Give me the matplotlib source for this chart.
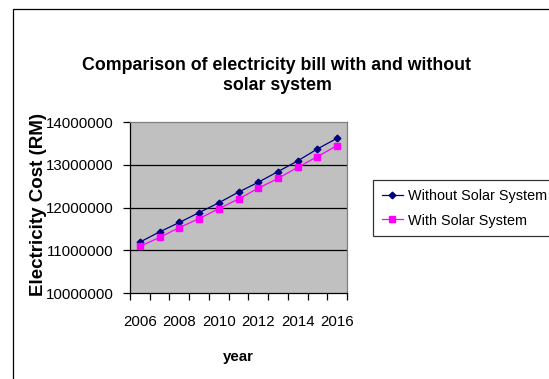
import matplotlib
matplotlib.use("Agg")
import matplotlib.pyplot as plt
from matplotlib.patches import Rectangle

plt.rcParams['font.family'] = ['Liberation Sans', 'DejaVu Sans']

# data
years = list(range(2006, 2017))
without_solar = [11190000, 11430000, 11650000, 11880000, 12110000, 12360000,
                 12590000, 12840000, 13090000, 13370000, 13620000]
with_solar = [11090000, 11300000, 11530000, 11740000, 11970000, 12200000,
              12450000, 12680000, 12940000, 13190000, 13450000]
y_ticks = [10000000, 11000000, 12000000, 13000000, 14000000]

W, H = 549, 379
fig = plt.figure(figsize=(W / 100, H / 100), dpi=100)
fig.patch.set_facecolor('white')

# outer chart frame (runs off the right and bottom of the picture)
fig.patches.append(Rectangle((13 / W, -0.2), 2, 1 - 9 / H + 0.2, transform=fig.transFigure,
                             fill=False, edgecolor='black', linewidth=0.9))

ax = fig.add_axes([130 / W, 1 - 293 / H, 217 / W, (293 - 122) / H])
ax.set_facecolor('#C0C0C0')

x = list(range(len(years)))
ax.plot(x, without_solar, color='#000080', marker='D', markersize=3.4, linewidth=0.9,
        label='Without Solar System')
ax.plot(x, with_solar, color='#FF00FF', marker='s', markersize=3.8, linewidth=0.9,
        label='With Solar System')

ax.set_xlim(-0.5, len(years) - 0.5)
ax.set_ylim(y_ticks[0], y_ticks[-1])
ax.set_yticks(y_ticks)
ax.set_yticklabels([str(v) for v in y_ticks], fontsize=10.8)
for v in y_ticks[1:-1]:
    ax.axhline(v, color='black', linewidth=0.9, zorder=1)

# ticks between categories, labels every second year
ax.set_xticks([i - 0.5 for i in range(len(years) + 1)])
ax.set_xticklabels([])
ax.set_xticks(x[::2], minor=True)
ax.set_xticklabels([str(y) for y in years[::2]], minor=True, fontsize=10.8)
ax.tick_params(axis='x', which='major', length=5, width=0.9, direction='out')
ax.tick_params(axis='x', which='minor', length=0, pad=16)
ax.tick_params(axis='y', length=5, width=0.9, direction='out', pad=7)

for s in ['left', 'bottom']:
    ax.spines[s].set_color('black')
    ax.spines[s].set_linewidth(0.9)
for s in ['top', 'right']:
    ax.spines[s].set_color('#808080')
    ax.spines[s].set_linewidth(0.9)

fig.text(277 / W, 1 - 65 / H, 'Comparison of electricity bill with and without',
         ha='center', va='center', fontsize=12.8, fontweight='bold')
fig.text(277 / W, 1 - 86 / H, 'solar system',
         ha='center', va='center', fontsize=12.8, fontweight='bold')
fig.text(238.5 / W, 1 - 357 / H, 'year', ha='center', va='center',
         fontsize=10.8, fontweight='bold')
fig.text(39 / W, 1 - 204 / H, 'Electricity Cost (RM)', ha='center', va='center',
         rotation=90, fontsize=13.5, fontweight='bold')

leg = fig.legend(loc='upper left', bbox_to_anchor=(373 / W, 1 - 180 / H),
                 fontsize=10.4, frameon=True, fancybox=False, borderpad=0.6,
                 handlelength=1.45, handletextpad=0.35, labelspacing=0.75,
                 borderaxespad=0)
leg.get_frame().set_edgecolor('black')
leg.get_frame().set_linewidth(0.9)

fig.savefig('out.png', dpi=100)
